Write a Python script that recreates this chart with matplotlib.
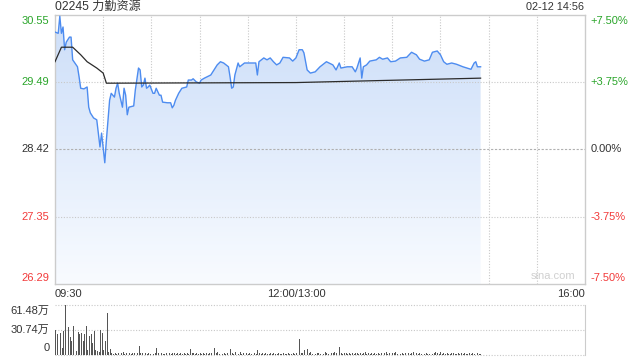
import numpy as np
import matplotlib
matplotlib.use("Agg")
import matplotlib.pyplot as plt

# ---------------- data ----------------
title_text = "02245 力勤资源"
stamp_text = "02-12 14:56"
prev_close = 28.42
price_ticks = [30.55, 29.49, 28.42, 27.35, 26.29]
pct_labels = ["+7.50%", "+3.75%", "0.00%", "-3.75%", "-7.50%"]
x_tick_pos = [0, 150, 330]
x_tick_labels = ["09:30", "12:00/13:00", "16:00"]
vol_tick_labels = ["61.48万", "30.74万", "0"]
vol_ticks = [61.48, 30.74, 0]

# minutes since 09:30 (continuous trading minutes, 12:00/13:00 joined)
price_t = [0, 2, 3, 4, 5, 6, 7, 9, 10, 11, 14, 15, 16, 18, 20, 21, 22, 24, 26, 28,
           29, 30, 31, 32, 34, 35, 37, 38, 39, 40, 41, 42, 43, 44, 45, 46, 49, 50, 52, 53,
           54, 55, 56, 57, 58, 59, 61, 62, 63, 65, 66, 67, 70, 72, 73, 74, 75, 77, 79, 82,
           83, 85, 86, 88, 90, 91, 93, 97, 99, 101, 103, 105, 108, 109, 110, 111, 112, 114, 115, 118,
           125, 126, 127, 130, 132, 134, 136, 138, 140, 142, 146, 148, 150, 152, 154, 155, 157, 159, 162, 165,
           169, 173, 175, 177, 178, 182, 185, 187, 188, 190, 191, 192, 194, 196, 200, 202, 204, 207, 209, 212,
           215, 219, 222, 225, 227, 230, 233, 235, 238, 240, 242, 244, 247, 250, 254, 259, 261, 262, 263, 265]
price_v = [30.28, 30.26, 30.53, 30.26, 30.36, 30.00, 30.12, 30.20, 30.20, 29.84, 29.73, 29.57, 29.39, 29.38, 29.41, 29.09, 29.00, 28.92, 28.89, 28.46,
           28.68, 28.44, 28.21, 28.57, 29.20, 29.31, 29.25, 29.39, 29.47, 29.31, 29.20, 29.09, 29.39, 29.28, 28.97, 29.09, 29.11, 29.36, 29.71, 29.68,
           29.41, 29.44, 29.55, 29.39, 29.41, 29.44, 29.31, 29.31, 29.39, 29.28, 29.28, 29.17, 29.16, 29.16, 29.08, 29.12, 29.20, 29.31, 29.39, 29.41,
           29.52, 29.52, 29.54, 29.49, 29.47, 29.52, 29.55, 29.60, 29.68, 29.76, 29.81, 29.79, 29.73, 29.57, 29.39, 29.41, 29.60, 29.79, 29.73, 29.79,
           29.79, 29.60, 29.81, 29.87, 29.84, 29.87, 29.81, 29.76, 29.79, 29.88, 29.87, 29.82, 29.87, 30.00, 30.00, 29.95, 29.68, 29.63, 29.65, 29.73,
           29.81, 29.76, 29.68, 29.79, 29.71, 29.73, 29.73, 29.65, 29.71, 29.87, 29.55, 29.73, 29.76, 29.82, 29.84, 29.88, 29.85, 29.87, 29.81, 29.82,
           29.87, 29.88, 29.96, 29.92, 29.85, 29.82, 29.84, 29.96, 29.98, 29.92, 29.81, 29.77, 29.79, 29.77, 29.73, 29.69, 29.79, 29.81, 29.73, 29.73]

avg_t = [0, 4, 11, 16, 20, 26, 30, 32, 150, 265]
avg_v = [29.81, 30.04, 30.04, 29.92, 29.81, 29.71, 29.63, 29.47, 29.48, 29.55]

# volume per minute (万股)
volume = [30.7, 25.8, 8, 27, 8.6, 29.5, 61.5, 46.8, 34.5, 22,
          17, 35.7, 3.7, 5, 28.3, 26.4, 27, 17, 25.8, 35.7,
          6, 23.4, 25.8, 14.8, 29.5, 6, 5, 3.7, 30.7, 27,
          6, 17, 51.7, 4, 7.4,
          2, 1.5, 3, 1, 2.5, 1.5, 2, 4, 1.5, 2,
          1, 2, 1.5, 3, 2, 1, 2.5, 11, 3, 2,
          1.5, 2, 1, 2.5, 1.5, 2, 1, 3, 8.6, 2,
          1.5, 2, 1, 1.5, 2.5, 1, 2, 1.5, 3, 2,
          1, 2.5, 1.5, 2, 1, 3, 1.5, 2, 1, 7.4,
          2, 3, 1.5, 2, 1, 2.5, 1.5, 2, 1, 2.5,
          1.5, 2, 3, 1.5, 8.6, 2, 4, 1.5, 2, 1,
          2.5, 1.5, 2, 3, 7.4, 2, 1.5, 4, 2, 1.5,
          3.5, 1, 2, 1.5, 2.5, 1, 2, 1.5, 1, 2,
          1.5, 6, 2, 1, 2.5, 1.5, 2, 1, 1.5, 2,
          1, 2, 1.5, 1, 2, 1.5, 1, 2, 1.5, 1,
          2, 1.5, 1, 2.5, 1.5, 2, 3, 19.7, 3, 2,
          6, 3, 7, 2, 4, 1.5, 2, 1, 3, 2,
          1.5, 2.5, 1, 4, 2, 1.5, 1, 2, 3, 4,
          2, 1.5, 10, 2.5, 1.5, 3, 2, 1, 2.5, 1.5,
          2, 1, 2.5, 3, 1.5, 2, 1, 2, 4, 1.5,
          2, 1, 2.5, 1.5, 2, 1, 3, 1.5, 2, 1,
          2.5, 4, 1.5, 2, 1, 2.5, 2, 3.5, 1.5, 2,
          1, 2, 1.5, 2.5, 1, 2, 1.5, 2, 4, 1.5,
          2, 1, 2.5, 1.5, 2, 1, 2, 1.5, 1, 2.5,
          1.5, 2, 4, 2, 1, 3.5, 1.5, 2, 1, 2,
          1.5, 1, 2.5, 2, 1.5, 1, 2, 1.5, 2.5, 1,
          2, 1.5, 1, 2, 1.5, 2.5, 1, 3.5, 2, 1.5, 1]

# ---------------- styling ----------------
FONT = ["Liberation Sans", "Noto Sans CJK SC", "DejaVu Sans"]
plt.rcParams["font.family"] = FONT
GREEN = "#2aa52a"
RED = "#f23a3a"
DARK = "#333333"
GRID = "#c8c8c8"
SPINE = "#cccccc"
LINE = "#4d8cf0"

fig = plt.figure(figsize=(6.4, 3.6), dpi=100)
W, H = 640, 360
L, R = 55, 585

ax = fig.add_axes([L / W, 1 - 284 / H, (R - L) / W, (284 - 15) / H])
vx = fig.add_axes([L / W, 1 - 355 / H, (R - L) / W, (355 - 305) / H])

ymin, ymax = price_ticks[-1], price_ticks[0]
ax.set_xlim(0, 330)
ax.set_ylim(ymin, ymax)

# gradient fill under the price line
grad = np.linspace(0, 1, 256).reshape(-1, 1)
top_c = np.array([0.80, 0.87, 0.975])
bot_c = np.array([0.975, 0.985, 1.0])
img = top_c[None, None, :] * (1 - grad[:, :, None]) + bot_c[None, None, :] * grad[:, :, None]
poly = ax.fill_between(price_t, price_v, ymin, color="none", lw=0)
im = ax.imshow(img, extent=[0, price_t[-1], ymin, ymax], aspect="auto",
               origin="upper", zorder=1)
path = poly.get_paths()[0]
im.set_clip_path(path, transform=ax.transData)

# grid
for xv in range(30, 330, 30):
    ax.axvline(xv, color=GRID, lw=0.8, ls=(0, (1, 1.5)), zorder=0.5)
for yv in price_ticks[1:-1]:
    ax.axhline(yv, color=GRID if yv != prev_close else "#b0b0b0", lw=0.8,
               ls=(0, (1, 1.5)) if yv != prev_close else (0, (2, 1.5)), zorder=2)

ax.plot(price_t, price_v, color=LINE, lw=1.0, zorder=3)
ax.plot(avg_t, avg_v, color="#2b2b2b", lw=0.9, zorder=3)

for s in ax.spines.values():
    s.set_color(SPINE)
    s.set_linewidth(1)
ax.set_xticks([])
ax.set_yticks([])

# left and right price labels
for i, (p, pl) in enumerate(zip(price_ticks, pct_labels)):
    c = GREEN if p > prev_close else (RED if p < prev_close else DARK)
    va = "top" if i == 0 else ("bottom" if i == len(price_ticks) - 1 else "center")
    off = -1 if i == 0 else (1 if i == len(price_ticks) - 1 else 0)
    ax.annotate(f"{p:.2f}", xy=(0, p), xycoords=("axes fraction", "data"),
                xytext=(-4, off), textcoords="offset points",
                ha="right", va=va, fontsize=8, color=c)
    ax.annotate(pl, xy=(1, p), xycoords=("axes fraction", "data"),
                xytext=(4, off), textcoords="offset points",
                ha="left", va=va, fontsize=8, color=c)

# x labels
has = ["left", "center", "right"]
for xp, xl, ha in zip(x_tick_pos, x_tick_labels, has):
    ax.annotate(xl, xy=(xp, 0), xycoords=("data", "axes fraction"),
                xytext=(0, -3.5), textcoords="offset points",
                ha=ha, va="top", fontsize=8, color=DARK)

# title / timestamp
fig.text(L / W, 1 - 7 / H, title_text, ha="left", va="center", fontsize=8.7,
         color=DARK, family=FONT)
fig.text(584 / W, 1 - 7 / H, stamp_text, ha="right", va="center", fontsize=7.8,
         color=DARK)

# watermark
ax.text(0.94, 0.012, "sina.com", transform=ax.transAxes, ha="center", va="bottom",
        fontsize=8, color="#d0d0d0")

# ---------------- volume panel ----------------
vt = np.arange(len(volume))
vx.bar(vt, volume, width=0.55, color="#555555", align="center", zorder=2)
vx.set_xlim(-0.5, 330)
vx.set_ylim(0, vol_ticks[0])
for yv in vol_ticks:
    vx.axhline(yv, color=GRID, lw=0.8, ls=(0, (1, 1.5)), zorder=1, clip_on=False)
for k in ["left", "top", "bottom"]:
    vx.spines[k].set_visible(False)
vx.spines["right"].set_color(SPINE)
vx.set_xticks([])
vx.set_yticks([])
vol_off = [-4, 0, 5]
for yv, lab, o in zip(vol_ticks, vol_tick_labels, vol_off):
    vx.annotate(lab, xy=(0, yv), xycoords=("axes fraction", "data"),
                xytext=(-4, o), textcoords="offset points",
                ha="right", va="center", fontsize=8, color=DARK, family=FONT)

fig.savefig("out.png", dpi=100)
